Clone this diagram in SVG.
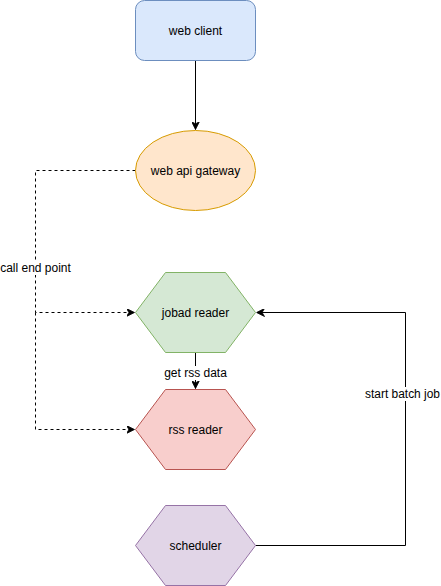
<svg xmlns="http://www.w3.org/2000/svg" width="441" height="586" viewBox="0 0 441 586">
<style>
text{font-family:"Liberation Sans",Arial,Helvetica,sans-serif;font-size:12px;fill:#000;text-anchor:middle;dominant-baseline:central}
.edge{fill:none;stroke:#000;stroke-width:1}
.dash{stroke-dasharray:3 3}
.lbl{fill:#fff}
</style>
<defs>
<marker id="arr" viewBox="0 0 10 10" refX="10" refY="5" markerWidth="8" markerHeight="8" markerUnits="userSpaceOnUse" orient="auto">
<path d="M0,0 L10,5 L0,10 L3,5 Z" fill="#000" stroke="#000" stroke-width="1"/>
</marker>
</defs>
<g id="connectors">
<path class="edge" d="M195.5,60.5 L195.5,129.5" marker-end="url(#arr)"/>
<path class="edge dash" d="M135.5,170.5 L35.5,170.5 L35.5,312.5 L134.5,312.5" marker-end="url(#arr)"/>
<path class="edge dash" d="M35.5,312.5 L35.5,429.5 L134.5,429.5" marker-end="url(#arr)"/>
<rect class="lbl" x="0" y="261" width="71" height="14"/>
<text x="35.5" y="268">call end point</text>
<path class="edge" d="M195.5,352.5 L195.5,388.5" marker-end="url(#arr)"/>
<rect class="lbl" x="163" y="366" width="65" height="14"/>
<text x="195.5" y="373">get rss data</text>
<path class="edge" d="M255.5,545.5 L405.5,545.5 L405.5,312.5 L256.5,312.5" marker-end="url(#arr)"/>
<rect class="lbl" x="364" y="387" width="77" height="14"/>
<text x="402.5" y="394" textLength="75" lengthAdjust="spacingAndGlyphs">start batch job</text>
</g>
<g id="web-client">
<rect x="135.5" y="0.5" width="120" height="60" rx="9" ry="9" fill="#dae8fc" stroke="#6c8ebf"/>
<text x="195.5" y="30.5">web client</text>
</g>
<g id="web-api-gateway">
<ellipse cx="195.5" cy="170.5" rx="60" ry="40" fill="#ffe6cc" stroke="#d79b00"/>
<text x="195.5" y="170.5">web api gateway</text>
</g>
<g id="jobad-reader">
<polygon points="135.5,312.5 165.5,272.5 225.5,272.5 255.5,312.5 225.5,352.5 165.5,352.5" fill="#d5e8d4" stroke="#82b366"/>
<text x="195.5" y="312.5">jobad reader</text>
</g>
<g id="rss-reader">
<polygon points="135.5,429.5 165.5,389.5 225.5,389.5 255.5,429.5 225.5,469.5 165.5,469.5" fill="#f8cecc" stroke="#b85450"/>
<text x="195.5" y="429.5">rss reader</text>
</g>
<g id="scheduler">
<polygon points="135.5,545.5 165.5,505.5 225.5,505.5 255.5,545.5 225.5,585.5 165.5,585.5" fill="#e1d5e7" stroke="#9673a6"/>
<text x="195.5" y="545.5">scheduler</text>
</g>
</svg>
